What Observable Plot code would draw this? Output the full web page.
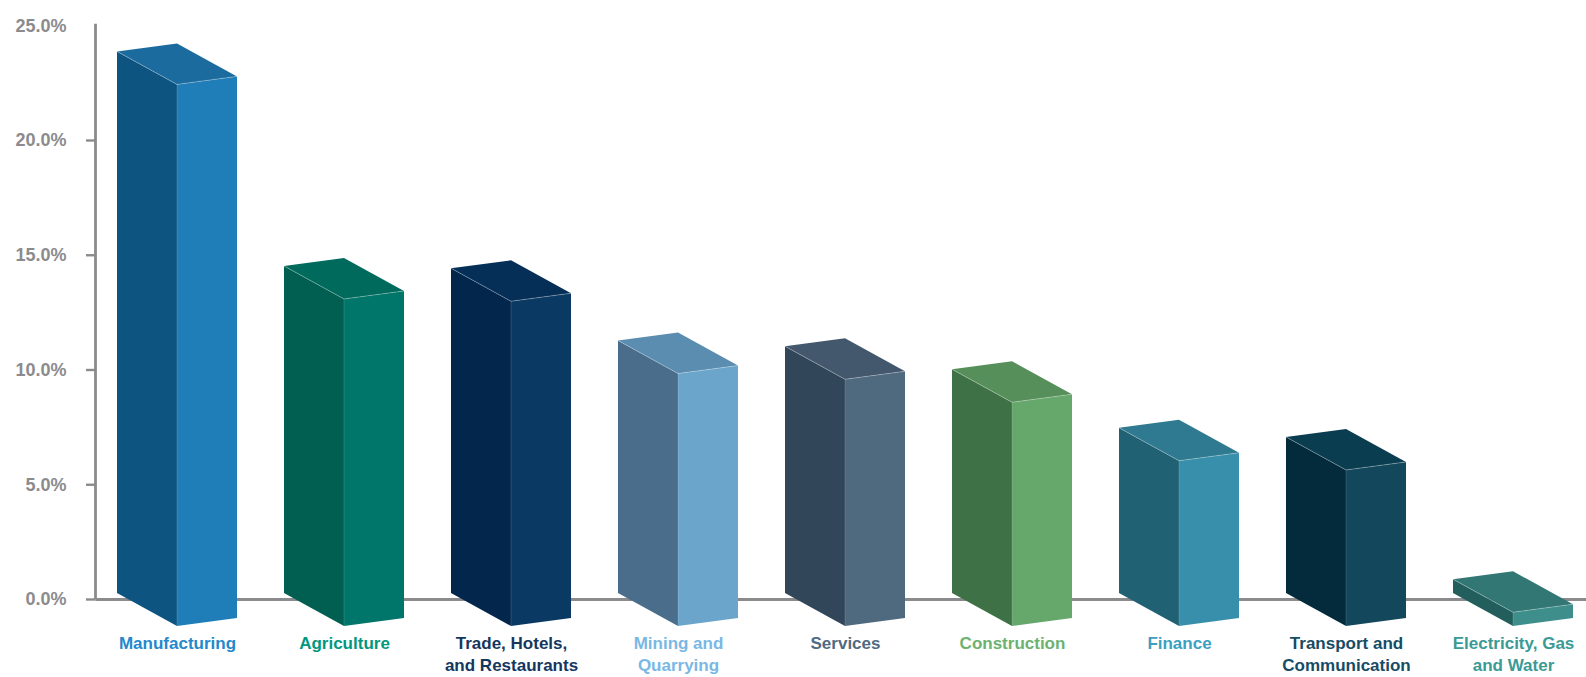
<!DOCTYPE html>
<html><head><meta charset="utf-8">
<script src="https://cdn.jsdelivr.net/npm/d3@7"></script>
<script src="https://cdn.jsdelivr.net/npm/@observablehq/plot@0.6"></script>
<style>
html,body{margin:0;padding:0;background:#fff;}
#chart svg{display:block;}
</style></head><body><div id="chart"></div>
<script>
const categories = ["Manufacturing","Agriculture","Trade, Hotels, and Restaurants","Mining and Quarrying","Services","Construction","Finance","Transport and Communication","Electricity, Gas and Water"];
const labelLines = ["Manufacturing","Agriculture","Trade, Hotels,\nand Restaurants","Mining and\nQuarrying","Services","Construction","Finance","Transport and\nCommunication","Electricity, Gas\nand Water"];
const values = [23.6, 14.25, 14.15, 11.0, 10.75, 9.75, 7.2, 6.8, 0.6];
const yTicks = [0, 5, 10, 15, 20, 25];
const leftColors  = ["#0e5480","#005f50","#03274c","#4a6d8b","#324659","#3e7246","#216174","#032b3c","#225f5c"];
const rightColors = ["#1f7eb8","#00756a","#0a3a64","#6ba5cc","#4f697f","#66a86b","#378fab","#12475c","#3e8f8c"];
const topColors   = ["#1b6b9e","#006a5c","#062f57","#5b8db1","#43576d","#568f5a","#2f7a90","#0a3d50","#327774"];
const labelColors = ["#2388cc","#00977f","#15365e","#79b8e4","#4f6a82","#6cb26f","#3ba0c1","#164c65","#3b9a95"];

const data = categories.map((c, i) => ({
  category: c, label: labelLines[i], value: values[i],
  left: leftColors[i], right: rightColors[i], top: topColors[i], labelColor: labelColors[i]
}));

const gray = "#8b8b8e";
const font = "'Liberation Sans', Arial, sans-serif";

function boxes(index, scales, vals, dims) {
  const g = d3.create("svg:g");
  const x = scales.x, y = scales.y;
  const y0 = y(0);
  // y axis line
  g.append("line").attr("x1", dims.marginLeft).attr("x2", dims.marginLeft)
    .attr("y1", y(25) - 1.5).attr("y2", y0).attr("stroke", gray).attr("stroke-width", 2.8);
  const hw = 60;
  const pts = a => a.map(p => p.join(",")).join(" ");
  for (const d of data) {
    const c = x(d.category), yv = y(d.value);
    const Lt = [c - hw, yv - 6], Bt = [c, yv - 14], Rt = [c + hw, yv + 19], Ft = [c, yv + 27];
    const Lb = [c - hw, y0 - 6], Rb = [c + hw, y0 + 19], Fb = [c, y0 + 27];
    const bar = g.append("g");
    bar.append("polygon").attr("points", pts([Lt, Ft, Fb, Lb])).attr("fill", d.left);
    bar.append("polygon").attr("points", pts([Ft, Rt, Rb, Fb])).attr("fill", d.right);
    bar.append("polygon").attr("points", pts([Lt, Bt, Rt, Ft])).attr("fill", d.top);
    bar.append("polyline").attr("points", pts([Lt, Ft, Rt])).attr("fill", "none")
      .attr("stroke", "rgba(255,255,255,0.35)").attr("stroke-width", 0.8);
    bar.append("line").attr("x1", Ft[0]).attr("y1", Ft[1]).attr("x2", Fb[0]).attr("y2", Fb[1])
      .attr("stroke", "rgba(255,255,255,0.18)").attr("stroke-width", 0.8);
  }
  return g.node();
}

const chart = Plot.plot({
  width: 1586,
  height: 677,
  marginLeft: 95.5,
  marginRight: 0,
  marginTop: 25.25,
  marginBottom: 78,
  style: {background: "#fff", fontFamily: font},
  x: {type: "point", domain: categories, padding: 0.443, align: 0.53, axis: null},
  y: {domain: [0, 25], axis: null},
  marks: [
    Plot.ruleY([0], {stroke: gray, strokeWidth: 3}),
    Plot.axisY({ticks: yTicks.filter(t => t < 25), tickSize: 9.5, tickPadding: 20,
      tickFormat: d => d.toFixed(1) + "%", stroke: gray, strokeWidth: 2.4, fill: gray,
      fontSize: 18, fontWeight: "bold", label: null}),
    Plot.axisY({ticks: [25], tickSize: 0, tickPadding: 29.5,
      tickFormat: d => d.toFixed(1) + "%", fill: gray, fontSize: 18, fontWeight: "bold", label: null}),
    boxes,
    Plot.text(data, {x: "category", y: () => 0, text: "label", fill: "labelColor",
      dy: 33.5, lineAnchor: "top", lineHeight: 1.3, fontSize: 17, fontWeight: "bold",
      textAnchor: "middle"})
  ]
});
document.getElementById("chart").append(chart);
</script>
</body></html>
